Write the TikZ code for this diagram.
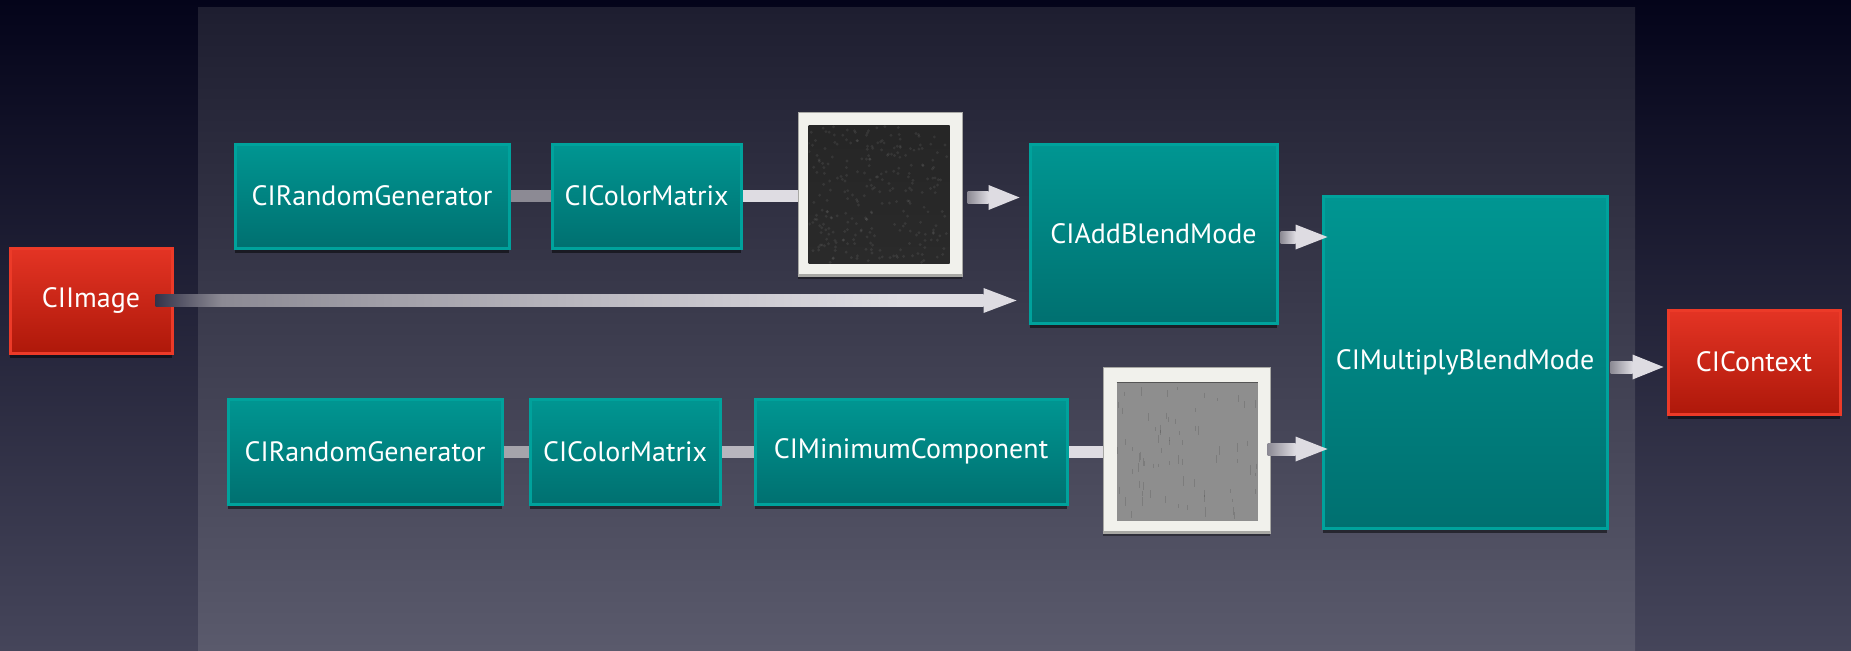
\documentclass[tikz,border=0pt]{standalone}
\usepackage{fontspec}
\setmainfont{PT Sans}
\usetikzlibrary{shadows,calc}
\definecolor{bgtop}{HTML}{04041A}
\definecolor{bgbot}{HTML}{45455A}
\definecolor{paneltop}{HTML}{1E1E30}
\definecolor{panelbot}{HTML}{5A5A6C}
\definecolor{tealtop}{HTML}{009692}
\definecolor{tealbot}{HTML}{007070}
\definecolor{tealedge}{HTML}{00A29C}
\definecolor{redtop}{HTML}{E43424}
\definecolor{redbot}{HTML}{AE180A}
\definecolor{rededge}{HTML}{EC3A28}
\definecolor{shaftlight}{HTML}{DEDCE2}
\definecolor{shaftgray}{HTML}{8C8A94}
\definecolor{shaftmid}{HTML}{B8B6BE}
\definecolor{shaftstart}{HTML}{34344A}
\definecolor{framecol}{HTML}{F1F1EC}
\definecolor{frameedge}{HTML}{A8A8A4}
\definecolor{darkimg}{HTML}{2A2A2A}
\definecolor{grayimg}{HTML}{8E8E8E}
\pgfdeclarehorizontalshading{imgshaft}{100bp}{color(0bp)=(shaftstart); color(25bp)=(shaftstart); color(29bp)=(shaftgray); color(50bp)=(shaftmid); color(70bp)=(shaftlight); color(100bp)=(shaftlight)}
\begin{document}
\begin{tikzpicture}[x=1pt,y=-1pt,
  boxbase/.style={rectangle, line width=3pt, text=white, inner sep=0pt,
    font=\fontsize{28}{34}\selectfont,
    drop shadow={shadow xshift=0pt, shadow yshift=-5pt, opacity=0.5, fill=black}},
  tealbox/.style={boxbase, draw=tealedge, top color=tealtop, bottom color=tealbot},
  redbox/.style={boxbase, draw=rededge, top color=redtop, bottom color=redbot},
  thumbframe/.style={rectangle, fill=framecol, draw=frameedge, line width=1pt, inner sep=0pt,
    drop shadow={shadow xshift=0pt, shadow yshift=-3pt, opacity=0.4, fill=black}},
  headfill/.style={fill=shaftlight},
]
\useasboundingbox (0,0) rectangle (1851,650);
% background
\shade[top color=bgtop, bottom color=bgbot] (0,0) rectangle (1851,650);
\shade[top color=paneltop, bottom color=panelbot] (198,8) rectangle (1635,650);

% nodes
\node[tealbox, minimum width=274, minimum height=104] (rg1) at (372,196) {CIRandomGenerator};
\node[tealbox, minimum width=189, minimum height=104] (cm1) at (646.5,196) {CIColorMatrix};
\node[thumbframe, minimum width=164, minimum height=163] (th1) at (880,194.5) {};
\node[tealbox, minimum width=247, minimum height=179] (add) at (1153.5,233.5) {CIAddBlendMode};
\node[redbox, minimum width=162, minimum height=105] (img) at (91,300.5) {CIImage};
\node[tealbox, minimum width=284, minimum height=332] (mul) at (1465,362) {CIMultiplyBlendMode};
\node[redbox, minimum width=172, minimum height=104] (ctx) at (1754,362) {CIContext};
\node[tealbox, minimum width=274, minimum height=105] (rg2) at (365,451.5) {CIRandomGenerator};
\node[tealbox, minimum width=190, minimum height=105] (cm2) at (625,451.5) {CIColorMatrix};
\node[tealbox, minimum width=312, minimum height=105] (cmin) at (911,451.5) {CIMinimumComponent};
\node[thumbframe, minimum width=167, minimum height=166] (th2) at (1186.5,450) {};

% thumbnail contents
\shade[top color=darkimg!90!black, bottom color=darkimg] ([shift={(11,13)}]th1.north west) rectangle ([shift={(-13,-13)}]th1.south east);
\pgfmathsetseed{7}
\begin{scope}
\clip ([shift={(11,13)}]th1.north west) rectangle ([shift={(-13,-13)}]th1.south east);
\foreach \i in {1,...,260}{
  \pgfmathsetmacro{\rx}{rnd*140}
  \pgfmathsetmacro{\ry}{rnd*137}
  \fill[white, opacity=0.07] ($(th1.north west)+(11+\rx,13+\ry)$) circle (1.6);
}
\end{scope}
\draw[frameedge, line width=3pt] ([yshift=1.5]th1.south west) -- ([yshift=1.5]th1.south east);
\fill[grayimg] ([shift={(14,16)}]th2.north west) rectangle ([shift={(-13,-13)}]th2.south east);
\begin{scope}
\clip ([shift={(14,16)}]th2.north west) rectangle ([shift={(-13,-13)}]th2.south east);
\foreach \i in {1,...,70}{
  \pgfmathsetmacro{\rx}{rnd*140}
  \pgfmathsetmacro{\ry}{rnd*130}
  \pgfmathsetmacro{\rl}{3+rnd*7}
  \draw[black, opacity=0.12, line width=1pt] ($(th2.north west)+(14+\rx,16+\ry)$) -- ++(0,\rl);
}
\end{scope}
\draw[darkimg!80, line width=1.5pt] ([shift={(14,16)}]th2.north west) -- ([shift={(-13,16)}]th2.north east);
\draw[frameedge, line width=3pt] ([yshift=1.5]th2.south west) -- ([yshift=1.5]th2.south east);

% plain connectors
\fill[shaftgray] ([yshift=-6]rg1.east) rectangle ([yshift=6]cm1.west);
\fill[shaftlight] ([yshift=-6]cm1.east) rectangle ([yshift=6]th1.west |- cm1.east);
\fill[shaftmid!90!black] ([yshift=-6]rg2.east) rectangle ([yshift=6]cm2.west);
\fill[shaftmid] ([yshift=-6]cm2.east) rectangle ([yshift=6]cmin.west);
\fill[shaftlight] ([yshift=-6]cmin.east) rectangle ([yshift=6]th2.west |- cmin.east);

% arrows
\coordinate (t1) at ($(th1.east -| add.west)+(-9,3)$);
\shade[left color=shaftgray, right color=shaftlight] ($(th1.east)+(5,-3)$) rectangle ($(t1)+(-31,6)$);
\fill[headfill] (t1) -- ++(-31,-12.5) -- ++(0,25) -- cycle;

\coordinate (t0) at ($(img.east -| add.west)+(-12,0)$);
\shade[shading=imgshaft] ($(img.east)+(-18,-6)$) rectangle ($(t0)+(-33,6)$);
\fill[headfill] (t0) -- ++(-33,-12.5) -- ++(0,25) -- cycle;

\coordinate (t2) at ($(add.east -| mul.west)+(6,3.5)$);
\shade[left color=shaftgray, right color=shaftlight] ($(add.east)+(2,-2.5)$) rectangle ($(t2)+(-32,6)$);
\fill[headfill] (t2) -- ++(-32,-12.5) -- ++(0,25) -- cycle;

\coordinate (t3) at ($(th2.east -| mul.west)+(6,-1)$);
\shade[left color=shaftgray, right color=shaftlight] ($(th2.east)+(-3,-7)$) rectangle ($(t3)+(-32,6)$);
\fill[headfill] (t3) -- ++(-32,-12.5) -- ++(0,25) -- cycle;

\coordinate (t4) at ($(mul.east -| ctx.west)+(-3,5)$);
\shade[left color=shaftgray, right color=shaftlight] ($(mul.east)+(2,-1)$) rectangle ($(t4)+(-31,6)$);
\fill[headfill] (t4) -- ++(-31,-12.5) -- ++(0,25) -- cycle;
\end{tikzpicture}
\end{document}
